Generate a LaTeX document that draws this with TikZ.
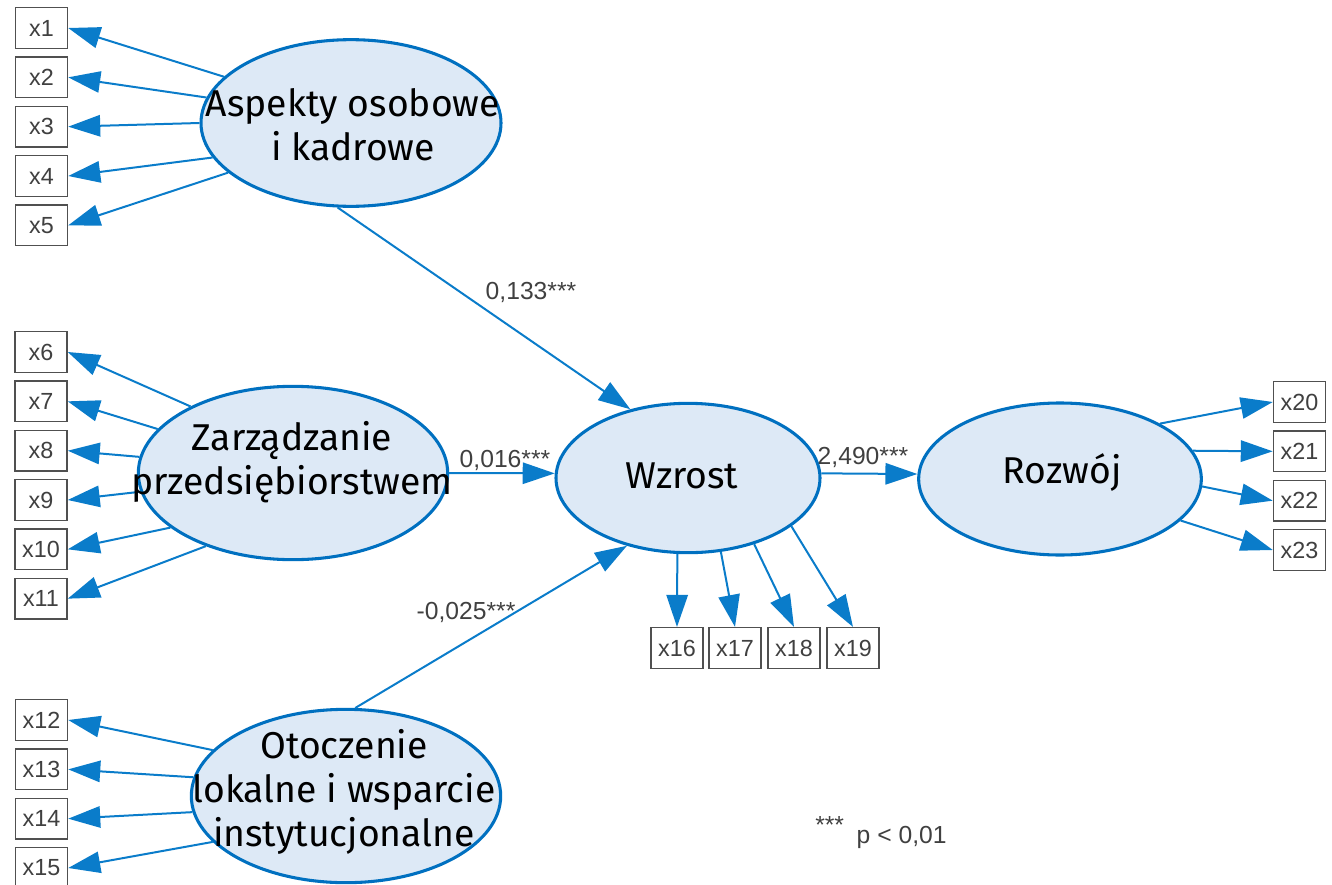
\documentclass[tikz,border=0pt]{standalone}
\usepackage{fontspec}
\usepackage{xcolor}
\usepackage{tikz}
\usetikzlibrary{shapes}
\usetikzlibrary{positioning}
\usetikzlibrary{arrows.meta}
\newfontfamily\latfont{Fira Sans}
\newfontfamily\obsfont{Liberation Sans}
\definecolor{semblue}{RGB}{10,124,202}
\definecolor{latline}{RGB}{0,112,192}
\definecolor{latfill}{RGB}{221,233,246}
\definecolor{boxgray}{RGB}{80,80,80}
\definecolor{numgray}{RGB}{64,64,64}

\begin{document}
\begin{tikzpicture}[x=0.75pt,y=-0.75pt,
  node distance=5.4pt,
  latent/.style={ellipse,draw=latline,line width=2.3pt,fill=latfill,inner sep=0pt},
  lattext/.style={font=\latfont\fontsize{28}{33}\selectfont,align=center,inner sep=0pt},
  obs/.style={draw=boxgray,line width=1.1pt,fill=white,minimum width=39pt,minimum height=30.5pt,
    inner sep=0pt,font=\obsfont\fontsize{17.5}{19}\selectfont,text=numgray},
  load/.style={draw=semblue,line width=1.5pt,-{Triangle[length=24pt,width=16pt]}},
  coef/.style={font=\obsfont\fontsize{18.5}{21}\selectfont,text=numgray,inner sep=0pt}]
  \useasboundingbox (0,0) rectangle (1332,885);

  % latent variables
  \node[latent,minimum width=225pt,minimum height=125pt] (asp) at (351,123) {};
  \node[latent,minimum width=232pt,minimum height=130pt] (zar) at (293,473) {};
  \node[latent,minimum width=232pt,minimum height=130pt] (oto) at (346,796) {};
  \node[latent,minimum width=198pt,minimum height=112pt] (wz) at (688,478) {};
  \node[latent,minimum width=212pt,minimum height=114pt] (roz) at (1060,479) {};

  % observed variables
  \node[obs] (x1) at (41.5,28) {x1};
  \node[obs,below=of x1] (x2) {x2};
  \node[obs,below=of x2] (x3) {x3};
  \node[obs,below=of x3] (x4) {x4};
  \node[obs,below=of x4] (x5) {x5};
  \node[obs] (x6) at (41,352) {x6};
  \node[obs,below=of x6] (x7) {x7};
  \node[obs,below=of x7] (x8) {x8};
  \node[obs,below=of x8] (x9) {x9};
  \node[obs,below=of x9] (x10) {x10};
  \node[obs,below=of x10] (x11) {x11};
  \node[obs] (x12) at (41.5,720) {x12};
  \node[obs,below=of x12] (x13) {x13};
  \node[obs,below=of x13] (x14) {x14};
  \node[obs,below=of x14] (x15) {x15};
  \node[obs] (x16) at (677,648) {x16};
  \node[obs] (x17) at (735,648) {x17};
  \node[obs] (x18) at (794,648) {x18};
  \node[obs] (x19) at (853,648) {x19};
  \node[obs] (x20) at (1299.5,402) {x20};
  \node[obs,below=of x20] (x21) {x21};
  \node[obs,below=of x21] (x22) {x22};
  \node[obs,below=of x22] (x23) {x23};

  % loadings
  \draw[load] (asp.160.6) -- (x1.east);
  \draw[load] (asp.170.7) -- (x2.east);
  \draw[load] (asp.180) -- (x3.east);
  \draw[load] (asp.194.5) -- (x4.east);
  \draw[load] (asp.202.8) -- (x5.east);
  \draw[load] (zar.147) -- (x6.east);
  \draw[load] (zar.162) -- (x7.east);
  \draw[load] (zar.174) -- (x8.east);
  \draw[load] (zar.187) -- (x9.east);
  \draw[load] (zar.204) -- (x10.east);
  \draw[load] (zar.220) -- (x11.east);
  \draw[load] (oto.161) -- (x12.east);
  \draw[load] (oto.173) -- (x13.east);
  \draw[load] (oto.186) -- (x14.east);
  \draw[load] (oto.199) -- (x15.east);
  \draw[load] (wz.262) -- (x16.north);
  \draw[load] (wz.294) -- (x17.north);
  \draw[load] (wz.315) -- (x18.north);
  \draw[load] (wz.335) -- (x19.north);
  \draw[load] (roz.29) -- (x20.west);
  \draw[load] (roz.12.5) -- (x21.west);
  \draw[load] (roz.357) -- (x22.west);
  \draw[load] (roz.341) -- (x23.west);

  % structural paths
  \draw[load] (asp.261) -- (wz.130);
  \draw[load] (zar.0) -- (wz.178);
  \draw[load] (oto.84) -- (wz.228);
  \draw[load] (wz.2) -- (roz.178);

  % texts
  \node[lattext] (asp-t) at (353,125) {Aspekty osobowe\\i kadrowe};
  \node[lattext] (zar-t) at (292,462) {Zarządzanie\\przedsiębiorstwem};
  \node[lattext] (oto-t) at (344,792) {Otoczenie\\lokalne i wsparcie\\instytucjonalne};
  \node[lattext] (wz-t) at (682,476) {Wzrost};
  \node[lattext] (roz-t) at (1062,473) {Rozwój};

  \node[coef] (c-asp) at (531,292) {0,133***};
  \node[coef] (c-zar) at (505,460) {0,016***};
  \node[coef] (c-oto) at (466,612) {-0,025***};
  \node[coef] (c-wz) at (863,457) {2,490***};
  \node[coef,anchor=base west] (legend) at (815,843) {\raisebox{7.5pt}{***}\hspace{9.5pt}p < 0,01};
\end{tikzpicture}
\end{document}
